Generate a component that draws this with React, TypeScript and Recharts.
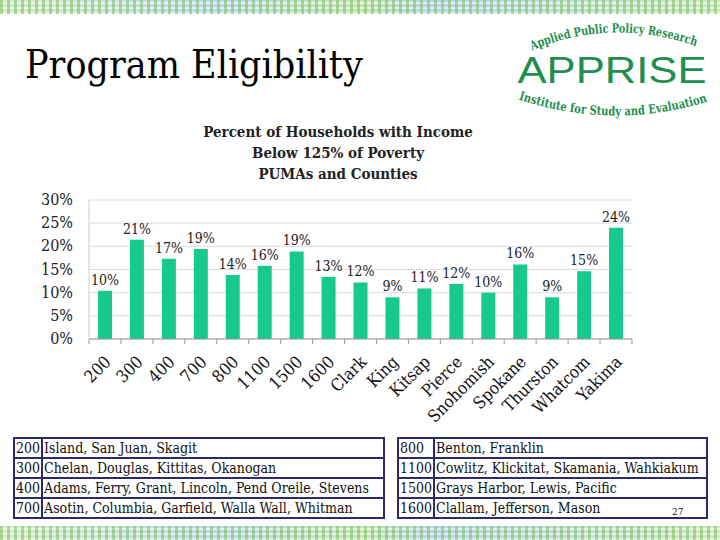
import { BarChart, Bar, XAxis, YAxis, CartesianGrid, LabelList } from 'recharts';

// PUMAs and counties, in chart order
const areas = [
  '200', '300', '400', '700', '800', '1100', '1500', '1600',
  'Clark', 'King', 'Kitsap', 'Pierce', 'Snohomish', 'Spokane', 'Thurston', 'Whatcom', 'Yakima',
];
// percent of households below 125% of poverty
const pctBelow = [10.4, 21.4, 17.3, 19.4, 13.8, 15.8, 18.9, 13.4, 12.2, 9.0, 10.9, 11.9, 10.0, 16.1, 9.0, 14.6, 24.0];
const yTicks = [0, 5, 10, 15, 20, 25, 30];

const pumaLeft = [
  ['200', 'Island, San Juan, Skagit'],
  ['300', 'Chelan, Douglas, Kittitas, Okanogan'],
  ['400', 'Adams, Ferry, Grant, Lincoln, Pend Oreile, Stevens'],
  ['700', 'Asotin, Columbia, Garfield, Walla Wall, Whitman'],
];
const pumaRight = [
  ['800', 'Benton, Franklin'],
  ['1100', 'Cowlitz, Klickitat, Skamania, Wahkiakum'],
  ['1500', 'Grays Harbor, Lewis, Pacific'],
  ['1600', 'Clallam, Jefferson, Mason'],
];

const data = areas.map((a, i) => ({ area: a, pct: pctBelow[i] }));

const SERIF = '"DejaVu Serif Condensed", "DejaVu Serif", "Liberation Serif", serif';
const SANS = '"Liberation Sans", Arimo, Arial, sans-serif';
const PLOT_W = 543;
const BAND = PLOT_W / areas.length;

function AreaTick(props: any) {
  const { x, y, payload, index } = props;
  return (
    <g>
      <line x1={x - BAND / 2} y1={y - 8} x2={x - BAND / 2} y2={y - 3} stroke="#999" />
      {index === areas.length - 1 && (
        <line x1={x + BAND / 2} y1={y - 8} x2={x + BAND / 2} y2={y - 3} stroke="#999" />
      )}
      <text
        x={x + 7}
        y={y + 16}
        textAnchor="end"
        transform={`rotate(-45 ${x + 7} ${y + 16})`}
        style={{ fontFamily: SERIF, fontStretch: 'condensed' }}
        fontSize={17}
        fill="#111"
      >
        {payload.value}
      </text>
    </g>
  );
}

function PctTick(props: any) {
  const { x, y, payload } = props;
  return (
    <text x={x - 8} y={y + 5} textAnchor="end" style={{ fontFamily: SERIF, fontStretch: 'condensed' }} fontSize={16} fill="#222">
      {`${payload.value}%`}
    </text>
  );
}

function Stripe({ top }: { top: number }) {
  return (
    <div
      style={{
        position: 'absolute',
        left: 0,
        top,
        width: 720,
        height: 14,
        backgroundColor: '#cfe9c0',
        backgroundImage:
          'repeating-linear-gradient(90deg, rgba(120,190,90,0.55) 0 3px, transparent 3px 7px), repeating-linear-gradient(0deg, rgba(255,255,255,0.6) 0 2px, transparent 2px 5px), linear-gradient(90deg, #d6ecc8 0%, #bcd8ee 30%, #c6e6b4 50%, #b8d4ee 60%, #cde9bd 100%)',
      }}
    />
  );
}

function PumaTable({ rows, left, width, codeW }: { rows: string[][]; left: number; width: number; codeW: number }) {
  return (
    <table
      style={{
        position: 'absolute',
        left,
        top: 437,
        width,
        borderCollapse: 'collapse',
        fontFamily: SERIF,
        fontStretch: 'condensed',
        fontSize: 14,
        color: '#111',
      }}
    >
      <tbody>
        {rows.map((r) => (
          <tr key={r[0]} style={{ height: 20 }}>
            <td style={{ border: '2px solid #2b2b6b', width: codeW, padding: '0 1px', lineHeight: '16px' }}>{r[0]}</td>
            <td style={{ border: '2px solid #2b2b6b', padding: '0 1px', lineHeight: '16px', whiteSpace: 'nowrap' }}>{r[1]}</td>
          </tr>
        ))}
      </tbody>
    </table>
  );
}

function Logo() {
  const green = '#1f8f4e';
  return (
    <svg width={208} height={112} style={{ position: 'absolute', left: 508, top: 20 }}>
      <defs>
        <path id="arcTop" d="M 22 31 Q 104 -4 190 27" fill="none" />
        <path id="arcBot" d="M 12 80 Q 106 110 198 82" fill="none" />
      </defs>
      <text style={{ fontFamily: SERIF, fontStretch: 'condensed' }} fontWeight="bold" fontSize={12.5} fill={green}>
        <textPath href="#arcTop" startOffset="50%" textAnchor="middle" textLength={168} lengthAdjust="spacingAndGlyphs">
          Applied Public Policy Research
        </textPath>
      </text>
      <text
        x={104}
        y={63}
        textAnchor="middle"
        style={{ fontFamily: SANS }}
        fontSize={36}
        fill={green}
        textLength={189}
        lengthAdjust="spacingAndGlyphs"
      >
        APPRISE
      </text>
      <text style={{ fontFamily: SERIF, fontStretch: 'condensed' }} fontWeight="bold" fontSize={12.5} fill={green}>
        <textPath href="#arcBot" startOffset="50%" textAnchor="middle" textLength={192} lengthAdjust="spacingAndGlyphs">
          Institute for Study and Evaluation
        </textPath>
      </text>
    </svg>
  );
}

export default function App() {
  return (
    <div style={{ position: 'absolute', left: 0, top: 0, width: 720, height: 540, background: '#fff', overflow: 'hidden', fontFamily: SERIF }}>
      <Stripe top={0} />
      <Stripe top={526} />
      <div style={{ position: 'absolute', left: 25, top: 42, fontFamily: SERIF, fontStretch: 'condensed', fontSize: 39, color: '#000' }}>
        Program Eligibility
      </div>
      <Logo />
      <div
        style={{
          position: 'absolute',
          left: 188,
          top: 122,
          width: 300,
          textAlign: 'center',
          fontFamily: SERIF,
          fontStretch: 'condensed',
          fontWeight: 'bold',
          fontSize: 15,
          lineHeight: '21px',
          color: '#222',
        }}
      >
        Percent of Households with Income
        <br />
        Below 125% of Poverty
        <br />
        PUMAs and Counties
      </div>
      <div style={{ position: 'absolute', left: 0, top: 120 }}>
        <BarChart width={660} height={320} data={data} margin={{ top: 80, right: 28, left: 39, bottom: 6 }} barCategoryGap="30%">
          <CartesianGrid vertical={false} stroke="#dcdcdc" />
          <XAxis
            dataKey="area"
            interval={0}
            height={95}
            axisLine={{ stroke: '#999' }}
            tickLine={false}
            tick={<AreaTick />}
          />
          <YAxis
            width={50}
            domain={[0, 30]}
            ticks={yTicks}
            interval={0}
            axisLine={{ stroke: '#ccc' }}
            tickLine={false}
            tick={<PctTick />}
          />
          <Bar dataKey="pct" fill="#17c98f" barSize={14} isAnimationActive={false}>
            <LabelList
              dataKey="pct"
              position="top"
              offset={6}
              formatter={(v: any) => `${Math.round(v)}%`}
              style={{ fontFamily: SERIF, fontStretch: 'condensed', fontSize: 14, fill: '#222' }}
            />
          </Bar>
        </BarChart>
      </div>
      <PumaTable rows={pumaLeft} left={13} width={372} codeW={20} />
      <PumaTable rows={pumaRight} left={397} width={311} codeW={30} />
      <div style={{ position: 'absolute', left: 672, top: 506, fontFamily: SERIF, fontSize: 10, color: '#111' }}>27</div>
    </div>
  );
}
